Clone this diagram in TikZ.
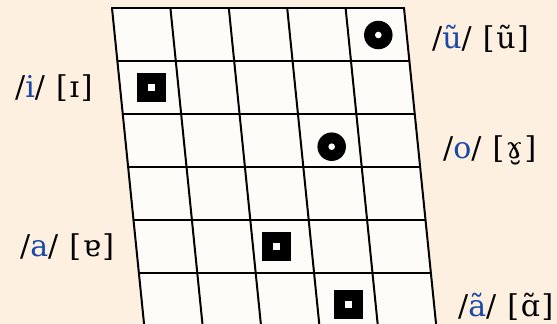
\documentclass[tikz,border=0pt]{standalone}
\usepackage{fontspec}
\setmainfont{DejaVu Serif}
\newfontfamily\labfont[LetterSpace=5.5]{DejaVu Serif}
\usetikzlibrary{calc}
\definecolor{bg}{HTML}{FDF0E1}
\definecolor{cell}{HTML}{FEFCF8}
\definecolor{phon}{HTML}{1A48A8}
\begin{document}
\begin{tikzpicture}[x=1pt,y=-1pt,
  gridline/.style={line width=2pt, black, line cap=round},
  bull/.style={circle, fill=black, minimum size=28.5pt, inner sep=0pt,
    path picture={\fill[white] (path picture bounding box.center) circle (3.3pt);}},
  sq/.style={rectangle, fill=black, minimum size=29pt, inner sep=0pt,
    path picture={\fill[white] ([shift={(-3.5pt,-3.5pt)}]path picture bounding box.center) rectangle ++(7pt,7pt);}},
  lab/.style={inner sep=0pt, anchor=west, font=\labfont\fontsize{30}{34}\selectfont}]
\clip (0,0) rectangle (557,324);
\fill[bg] (0,0) rectangle (557,324);
% grid corners
\coordinate (TL) at (112,8);
\coordinate (TR) at (404,8);
\coordinate (BR) at (436.2,325.4);
\coordinate (BL) at (144.2,325.4);
\fill[cell] (TL) -- (TR) -- (BR) -- (BL) -- cycle;
\foreach \c in {0,...,5} {
  \coordinate (t\c) at ($(TL)!\c/5!(TR)$);
  \coordinate (b\c) at ($(BL)!\c/5!(BR)$);
  \draw[gridline] (t\c) -- (b\c);
}
\foreach \r in {0,...,6} {
  \coordinate (l\r) at ($(TL)!\r/6!(BL)$);
  \coordinate (r\r) at ($(TR)!\r/6!(BR)$);
  \draw[gridline] (l\r) -- (r\r);
}
% markers
\node[bull] (m1) at (378.3,35) {};
\node[bull] (m2) at (331.7,146.7) {};
\node[sq] (m3) at (151.7,87) {};
\node[sq] (m4) at (276.5,246.5) {};
\node[sq] (m5) at (348.7,304.5) {};
% labels
\node[lab] (u) at (432,39) {/\textcolor{phon}{ũ}/ [ũ]};
\node[lab] (i) at (15,88) {/\textcolor{phon}{i}/ [ɪ]};
\node[lab] (o) at (443,150) {/\textcolor{phon}{o}/ [ɤ̮]};
\node[lab] (a) at (20,247) {/\textcolor{phon}{a}/ [ɐ]};
\node[lab] (an) at (458,307) {/\textcolor{phon}{ã}/ [ɑ̃]};
\end{tikzpicture}
\end{document}
